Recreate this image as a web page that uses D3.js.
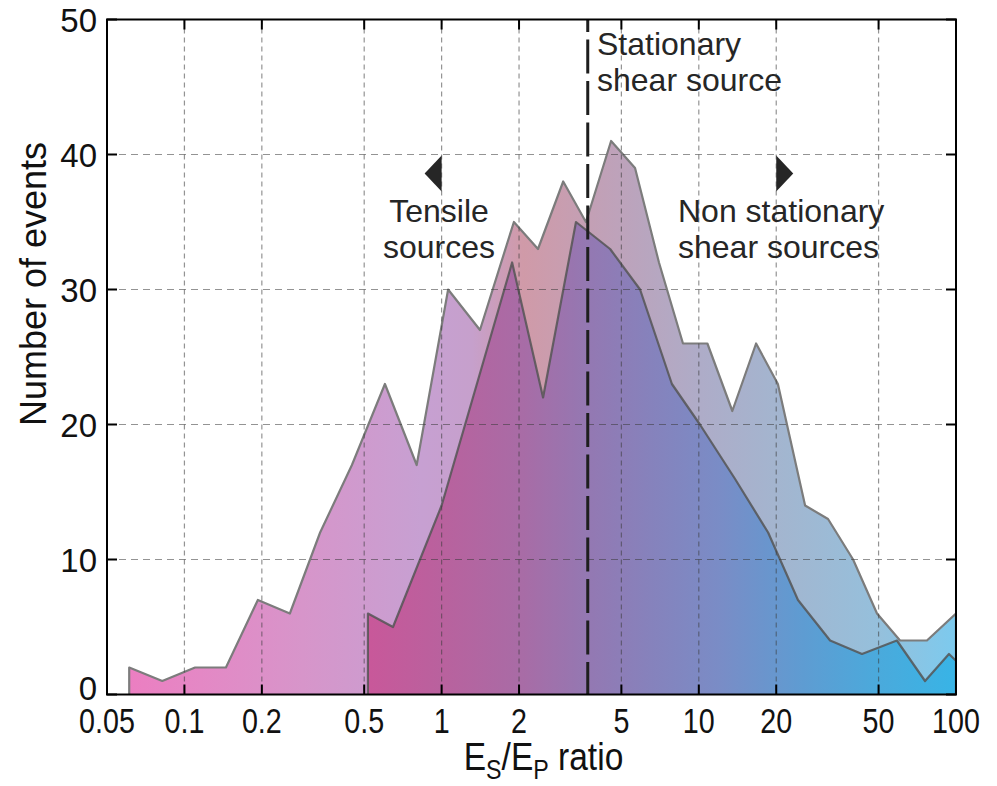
<!DOCTYPE html>
<html>
<head>
<meta charset="utf-8">
<script src="https://cdn.jsdelivr.net/npm/d3@7"></script>
<style>
  body { margin: 0; background: #fff; }
  svg { display: block; }
</style>
</head>
<body>
<svg id="chart" width="997" height="786"></svg>
<script>
// Histogram of the energy ratio, all events (outer curve)
const allRatio = [0.061, 0.082, 0.11, 0.145, 0.193, 0.257, 0.337, 0.448, 0.602, 0.80, 1.06, 1.41, 1.91, 2.37, 2.97, 3.64, 4.56, 5.65, 7.0, 8.68, 10.8, 13.5, 16.7, 20.3, 25.9, 31.8, 39.8, 49.3, 60.6, 77.1, 100];
const allCount = [2, 1, 2, 2, 7, 6, 12, 17, 23, 17, 30, 27, 35, 33, 38, 35, 41, 39, 32, 26, 26, 21, 26, 23, 14, 13, 10, 6, 4, 4, 6];

// Histogram of the energy ratio, selected subset (inner curve)
const subRatio = [0.517, 0.647, 1.0, 1.88, 2.48, 3.33, 4.52, 5.91, 7.86, 10.1, 13.8, 18.6, 24.3, 32.4, 43.1, 58.9, 75.8, 93.9, 100];
const subCount = [6, 5, 14, 32, 22, 35, 33, 30, 23, 20, 16, 12, 7, 4, 3, 4, 1, 3, 2.5];

const xTicks = [0.05, 0.1, 0.2, 0.5, 1, 2, 5, 10, 20, 50, 100];
const xTickLabels = ["0.05", "0.1", "0.2", "0.5", "1", "2", "5", "10", "20", "50", "100"];
const yTicks = [0, 10, 20, 30, 40, 50];

const stationaryRatio = 3.7;
const arrowCount = 38.6;
const leftArrowRatio = 1;
const rightArrowRatio = 20;

const svg = d3.select("#chart");
const L = 107, R = 956, T = 19.5, B = 694.5;

const x = d3.scaleLog().domain([0.05, 100]).range([L, R]);
const y = d3.scaleLinear().domain([0, 50]).range([B, T]);

const defs = svg.append("defs");
defs.append("clipPath").attr("id", "plotClip")
  .append("rect").attr("x", L).attr("y", T).attr("width", R - L).attr("height", B - T);

function gradient(id, stops) {
  const g = defs.append("linearGradient").attr("id", id)
    .attr("gradientUnits", "userSpaceOnUse")
    .attr("x1", L).attr("x2", R).attr("y1", 0).attr("y2", 0);
  stops.forEach(([o, c]) => g.append("stop").attr("offset", o).attr("stop-color", c));
}
gradient("gradAll", [
  [0.00, "#ee7bc0"], [0.11, "#e488c5"], [0.23, "#d795ca"], [0.37, "#c7a0d2"],
  [0.43, "#c6a0cc"], [0.49, "#d09aa8"], [0.60, "#bea2ba"], [0.70, "#aeacc8"],
  [0.80, "#a2b6d0"], [0.91, "#95c0dc"], [1.00, "#7ccaee"]
]);
gradient("gradSub", [
  [0.00, "#d0529a"], [0.31, "#c8589a"], [0.40, "#b8629e"], [0.49, "#a86ca6"],
  [0.565, "#9478b2"], [0.64, "#8682bc"], [0.72, "#7a8cc6"], [0.82, "#5e9cd2"],
  [0.91, "#4aaadc"], [1.00, "#38b4e6"]
]);

const plot = svg.append("g").attr("clip-path", "url(#plotClip)");

function series(ratios, counts) {
  return ratios.map((r, i) => ({ r, c: counts[i] }));
}
const area = d3.area().x(d => x(d.r)).y0(y(0)).y1(d => y(d.c));
const outline = d3.line().x(d => x(d.r)).y(d => y(d.c));
function closed(data) {
  return [{ r: data[0].r, c: 0 }, ...data, { r: data[data.length - 1].r, c: 0 }];
}

const all = series(allRatio, allCount);
const sub = series(subRatio, subCount);

plot.append("path").datum(all).attr("d", area).attr("fill", "url(#gradAll)");
plot.append("path").datum(closed(all)).attr("d", outline)
  .attr("fill", "none").attr("stroke", "#7c7c7c").attr("stroke-width", 2.2).attr("stroke-linejoin", "round");

plot.append("path").datum(sub).attr("d", area).attr("fill", "url(#gradSub)");
plot.append("path").datum(closed(sub)).attr("d", outline)
  .attr("fill", "none").attr("stroke", "#555").attr("stroke-opacity", 0.85).attr("stroke-width", 2.2).attr("stroke-linejoin", "round");

// dashed grid drawn over the fills
const grid = svg.append("g").attr("stroke", "#3a3a3a").attr("stroke-opacity", 0.55).attr("stroke-width", 1.2);
xTicks.slice(1, -1).forEach(v => {
  grid.append("line").attr("x1", x(v)).attr("x2", x(v)).attr("y1", T).attr("y2", B)
    .attr("stroke-dasharray", "5,4");
});
yTicks.slice(1, -1).forEach(v => {
  grid.append("line").attr("x1", L).attr("x2", R).attr("y1", y(v)).attr("y2", y(v))
    .attr("stroke-dasharray", "7,5");
});

// vertical marker for the stationary shear source
svg.append("line")
  .attr("x1", x(stationaryRatio)).attr("x2", x(stationaryRatio))
  .attr("y1", T).attr("y2", B)
  .attr("stroke", "#1e1e1e").attr("stroke-width", 3)
  .attr("stroke-dasharray", "34,7.5").attr("stroke-dashoffset", 21.5);

// frame and inward ticks
const axisG = svg.append("g");
axisG.append("rect").attr("x", L).attr("y", T).attr("width", R - L).attr("height", B - T)
  .attr("fill", "none").attr("stroke", "#000").attr("stroke-width", 2);
const tickLen = 10;
xTicks.forEach(v => {
  axisG.append("line").attr("x1", x(v)).attr("x2", x(v)).attr("y1", B).attr("y2", B - tickLen).attr("stroke", "#000").attr("stroke-width", 2);
  axisG.append("line").attr("x1", x(v)).attr("x2", x(v)).attr("y1", T).attr("y2", T + tickLen).attr("stroke", "#000").attr("stroke-width", 2);
});
yTicks.forEach(v => {
  axisG.append("line").attr("x1", L).attr("x2", L + tickLen).attr("y1", y(v)).attr("y2", y(v)).attr("stroke", "#000").attr("stroke-width", 2);
  axisG.append("line").attr("x1", R).attr("x2", R - tickLen).attr("y1", y(v)).attr("y2", y(v)).attr("stroke", "#000").attr("stroke-width", 2);
});

// tick labels
const font = "Liberation Sans, Arial, Helvetica, sans-serif";
yTicks.forEach(v => {
  svg.append("text").attr("x", L - 10).attr("y", y(v) + (v === 0 ? 5 : 12))
    .attr("text-anchor", "end").attr("font-family", font).attr("font-size", 33)
    .attr("fill", "#111").text(v);
});
xTicks.forEach((v, i) => {
  svg.append("text")
    .attr("transform", `translate(${x(v)},${B + 38}) scale(0.82,1)`)
    .attr("text-anchor", "middle").attr("font-family", font).attr("font-size", 35)
    .attr("fill", "#111").text(xTickLabels[i]);
});

// axis titles
const xTitle = svg.append("text")
  .attr("transform", `translate(${(L + R) / 2 + 12},${B + 75}) scale(0.86,1)`)
  .attr("text-anchor", "middle").attr("font-family", font).attr("font-size", 39).attr("fill", "#111");
xTitle.append("tspan").text("E");
xTitle.append("tspan").attr("font-size", 27).attr("dy", 9).text("S");
xTitle.append("tspan").attr("dy", -9).text("/E");
xTitle.append("tspan").attr("font-size", 27).attr("dy", 9).text("P");
xTitle.append("tspan").attr("dy", -9).text(" ratio");

svg.append("text")
  .attr("transform", `translate(46,${(T + B) / 2 - 73}) rotate(-90)`)
  .attr("text-anchor", "middle").attr("font-family", font).attr("font-size", 36)
  .attr("fill", "#111").text("Number of events");

// annotations
const ann = svg.append("g").attr("font-family", font).attr("font-size", 32).attr("fill", "#262626");
ann.append("text").attr("x", 439).attr("y", 222).attr("text-anchor", "middle").text("Tensile");
ann.append("text").attr("x", 439).attr("y", 258).attr("text-anchor", "middle").text("sources");
ann.append("text").attr("x", 678).attr("y", 222).text("Non stationary");
ann.append("text").attr("x", 678).attr("y", 258).text("shear sources");
ann.append("text").attr("x", 597).attr("y", 55).text("Stationary");
ann.append("text").attr("x", 597).attr("y", 91).text("shear source");

// direction arrows
const aw = 17, ah = 36;
const ax1 = x(leftArrowRatio), ay = y(arrowCount);
svg.append("path").attr("d", `M${ax1},${ay - ah / 2}L${ax1 - aw},${ay}L${ax1},${ay + ah / 2}Z`).attr("fill", "#262626");
const ax2 = x(rightArrowRatio);
svg.append("path").attr("d", `M${ax2},${ay - ah / 2}L${ax2 + aw},${ay}L${ax2},${ay + ah / 2}Z`).attr("fill", "#262626");
</script>
</body>
</html>
